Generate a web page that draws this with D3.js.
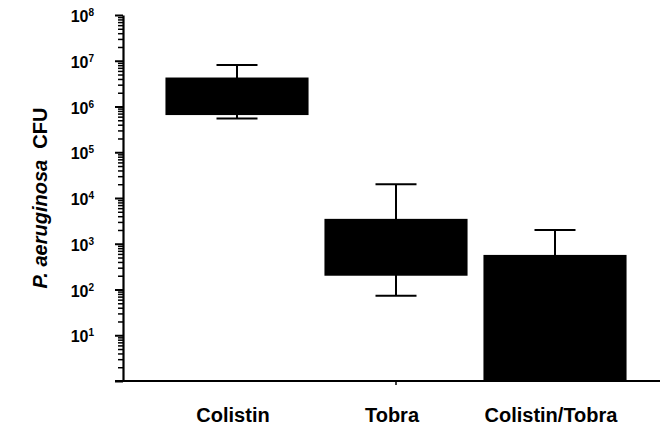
<!DOCTYPE html>
<html>
<head>
<meta charset="utf-8">
<script src="https://cdn.jsdelivr.net/npm/d3@7"></script>
<style>
  html, body { margin: 0; padding: 0; background: #fff; }
  svg { display: block; font-family: "Liberation Sans", Arial, Helvetica, sans-serif; }
</style>
</head>
<body>
<svg id="chart" width="660" height="429"></svg>
<script>
// Treatment groups and CFU summary per group (box = interquartile range, whiskers = range)
const categories  = ["Colistin", "Tobra", "Colistin/Tobra"];
const whiskerHigh = [8.1e6, 2.0e4, 2.0e3];
const boxHigh     = [4.3e6, 3.5e3, 5.7e2];
const boxLow      = [6.5e5, 2.0e2, 1];
const whiskerLow  = [5.5e5, 73, 1];

// Y axis decades, 10^0 .. 10^8
const decadeExponents = [0, 1, 2, 3, 4, 5, 6, 7, 8];
const yTitleItalic = "P. aeruginosa";
const yTitleRest = "  CFU";

(function draw() {
  const W = 660;
  const plotLeft = 123, plotBottom = 381, plotTop = 15;

  const svg = d3.select("#chart");

  const y = d3.scaleLog().domain([1, 1e8]).range([plotBottom, plotTop]).clamp(true);
  const x = d3.scaleBand().domain(categories).range([plotLeft, 669])
    .paddingInner(0.1).paddingOuter(0.267);

  const rows = categories.map((c, i) => ({
    cat: c, wHi: whiskerHigh[i], bHi: boxHigh[i], bLo: boxLow[i], wLo: whiskerLow[i]
  }));

  const capW = 41;

  // whiskers
  const g = svg.append("g");
  rows.forEach(d => {
    const cx = x(d.cat) + x.bandwidth() / 2;
    g.append("line").attr("x1", cx).attr("x2", cx)
      .attr("y1", y(d.wHi)).attr("y2", y(d.wLo))
      .attr("stroke", "#000").attr("stroke-width", 2);
    [d.wHi, d.wLo].forEach(v => {
      if (v > 1) {
        g.append("line").attr("x1", cx - capW / 2).attr("x2", cx + capW / 2)
          .attr("y1", y(v)).attr("y2", y(v))
          .attr("stroke", "#000").attr("stroke-width", 2);
      }
    });
  });

  // boxes
  g.selectAll("rect.box").data(rows).join("rect")
    .attr("class", "box")
    .attr("x", d => x(d.cat))
    .attr("width", x.bandwidth())
    .attr("y", d => y(d.bHi))
    .attr("height", d => y(d.bLo) - y(d.bHi))
    .attr("fill", "#000");

  // y axis: minor ticks
  const minorTicks = [];
  for (let e = 0; e < 8; e++) for (let m = 2; m <= 9; m++) minorTicks.push(m * Math.pow(10, e));
  const yMinor = svg.append("g").attr("transform", `translate(${plotLeft},0)`)
    .call(d3.axisLeft(y).tickValues(minorTicks).tickSize(5).tickFormat(""));
  yMinor.select(".domain").remove();
  yMinor.selectAll(".tick line").attr("stroke-width", 1.5);

  // y axis: major ticks + line
  const majors = decadeExponents.map(e => Math.pow(10, e));
  const yAxis = svg.append("g").attr("transform", `translate(${plotLeft},0)`)
    .call(d3.axisLeft(y).tickValues(majors).tickSize(8).tickSizeOuter(0).tickFormat(""));
  yAxis.select(".domain").attr("stroke-width", 2.2);
  yAxis.selectAll(".tick line").attr("stroke-width", 2);

  // decade labels 10^n (10^0 omitted)
  decadeExponents.filter(e => e > 0).forEach(e => {
    const t = svg.append("text")
      .attr("x", 94).attr("y", y(Math.pow(10, e)) + 7)
      .attr("text-anchor", "end")
      .attr("font-weight", "bold").attr("font-size", 16);
    t.append("tspan").text("10");
    t.append("tspan").attr("font-size", 10).attr("dy", -6).text(e);
  });

  // x axis
  const xAxis = svg.append("g").attr("transform", `translate(0,${plotBottom})`);
  xAxis.append("line").attr("x1", plotLeft - 8).attr("x2", W)
    .attr("y1", 0).attr("y2", 0).attr("stroke", "#000").attr("stroke-width", 2.2);
  const tobraX = x("Tobra") + x.bandwidth() / 2;
  xAxis.append("line").attr("x1", tobraX).attr("x2", tobraX)
    .attr("y1", 0).attr("y2", 4).attr("stroke", "#000").attr("stroke-width", 1.5);

  // category labels
  svg.selectAll("text.cat").data(categories).join("text")
    .attr("class", "cat")
    .attr("x", d => x(d) + x.bandwidth() / 2 - 4)
    .attr("y", 422)
    .attr("text-anchor", "middle")
    .attr("font-weight", "bold").attr("font-size", 20)
    .text(d => d);

  // y title
  const yt = svg.append("text")
    .attr("transform", `translate(47,${(plotTop + plotBottom) / 2}) rotate(-90)`)
    .attr("text-anchor", "middle")
    .attr("font-weight", "bold").attr("font-size", 20)
    .style("white-space", "pre");
  yt.append("tspan").attr("font-style", "italic").text(yTitleItalic);
  yt.append("tspan").text(yTitleRest);
})();
</script>
</body>
</html>
